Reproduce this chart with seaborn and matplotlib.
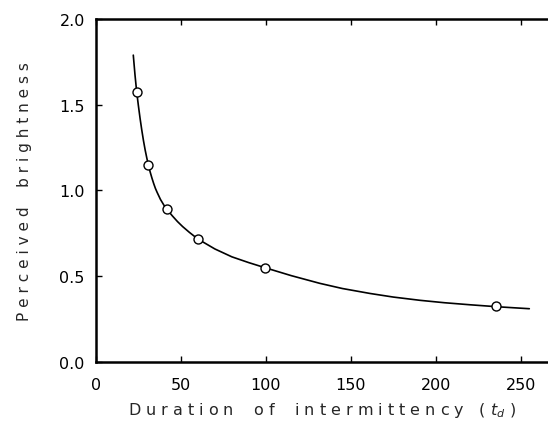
import matplotlib
matplotlib.use("Agg")
import matplotlib.pyplot as plt
import seaborn as sns
import pandas as pd

duration = [24, 30.8, 41.9, 60, 99.6, 235.3]
brightness = [1.575, 1.147, 0.889, 0.716, 0.549, 0.322]

# the drawn smooth curve, traced point by point
curve_x = [22, 23, 24, 25, 26, 27, 28, 29, 30, 31, 32, 33, 34, 35, 36, 38, 40, 42, 45, 48,
           51, 55, 60, 70, 80, 90, 100, 115, 131.8, 145, 161.3, 175, 190.7, 205, 220.1,
           235.3, 245, 255]
curve_y = [1.79, 1.675, 1.575, 1.495, 1.42, 1.352, 1.29, 1.235, 1.187, 1.143, 1.105, 1.071,
           1.040, 1.012, 0.989, 0.947, 0.914, 0.887, 0.851, 0.818, 0.789, 0.755, 0.716,
           0.658, 0.612, 0.578, 0.547, 0.502, 0.457, 0.427, 0.398, 0.377, 0.358, 0.344,
           0.332, 0.321, 0.315, 0.309]

x_ticks = [0, 50, 100, 150, 200, 250]
y_ticks = [0.0, 0.5, 1.0, 1.5, 2.0]

pts = pd.DataFrame({"t": duration, "b": brightness})
curve = pd.DataFrame({"t": curve_x, "b": curve_y})

sns.set_style("ticks")
plt.rcParams["font.family"] = ["DejaVu Sans"]

fig = plt.figure(figsize=(5.48, 4.39), dpi=100)
ax = fig.add_axes([0.175, 0.174, 0.825, 0.78])

sns.lineplot(data=curve, x="t", y="b", ax=ax, color="black", linewidth=1.2, sort=False)
sns.scatterplot(data=pts, x="t", y="b", ax=ax, marker="o", s=42, facecolor="white",
                edgecolor="black", linewidth=1.0, zorder=3)

ax.set_xlim(0, 266)
ax.set_ylim(0, 2.0)
ax.set_xticks(x_ticks)
ax.set_yticks(y_ticks)
ax.set_xticklabels([str(v) for v in x_ticks])
ax.set_yticklabels([f"{v:.1f}" for v in y_ticks])

# Frame: left, top, bottom only (right side is cut off)
for side in ["left", "top", "bottom"]:
    ax.spines[side].set_visible(True)
    ax.spines[side].set_linewidth(1.8)
    ax.spines[side].set_color("black")
ax.spines["right"].set_visible(False)

ax.tick_params(axis="both", direction="in", length=4, width=1, colors="black",
               labelsize=11.5)
ax.tick_params(axis="x", top=True, pad=11)
ax.tick_params(axis="y", left=True, right=False, pad=8)

ax.set_xlabel(r"D u r a t i o n    o f    i n t e r m i t t e n c y   $(\ t_d\ )$",
              fontsize=11.5, labelpad=6)
ax.set_ylabel("P e r c e i v e d    b r i g h t n e s s", fontsize=11, labelpad=20)

plt.savefig("out.png", dpi=100)
